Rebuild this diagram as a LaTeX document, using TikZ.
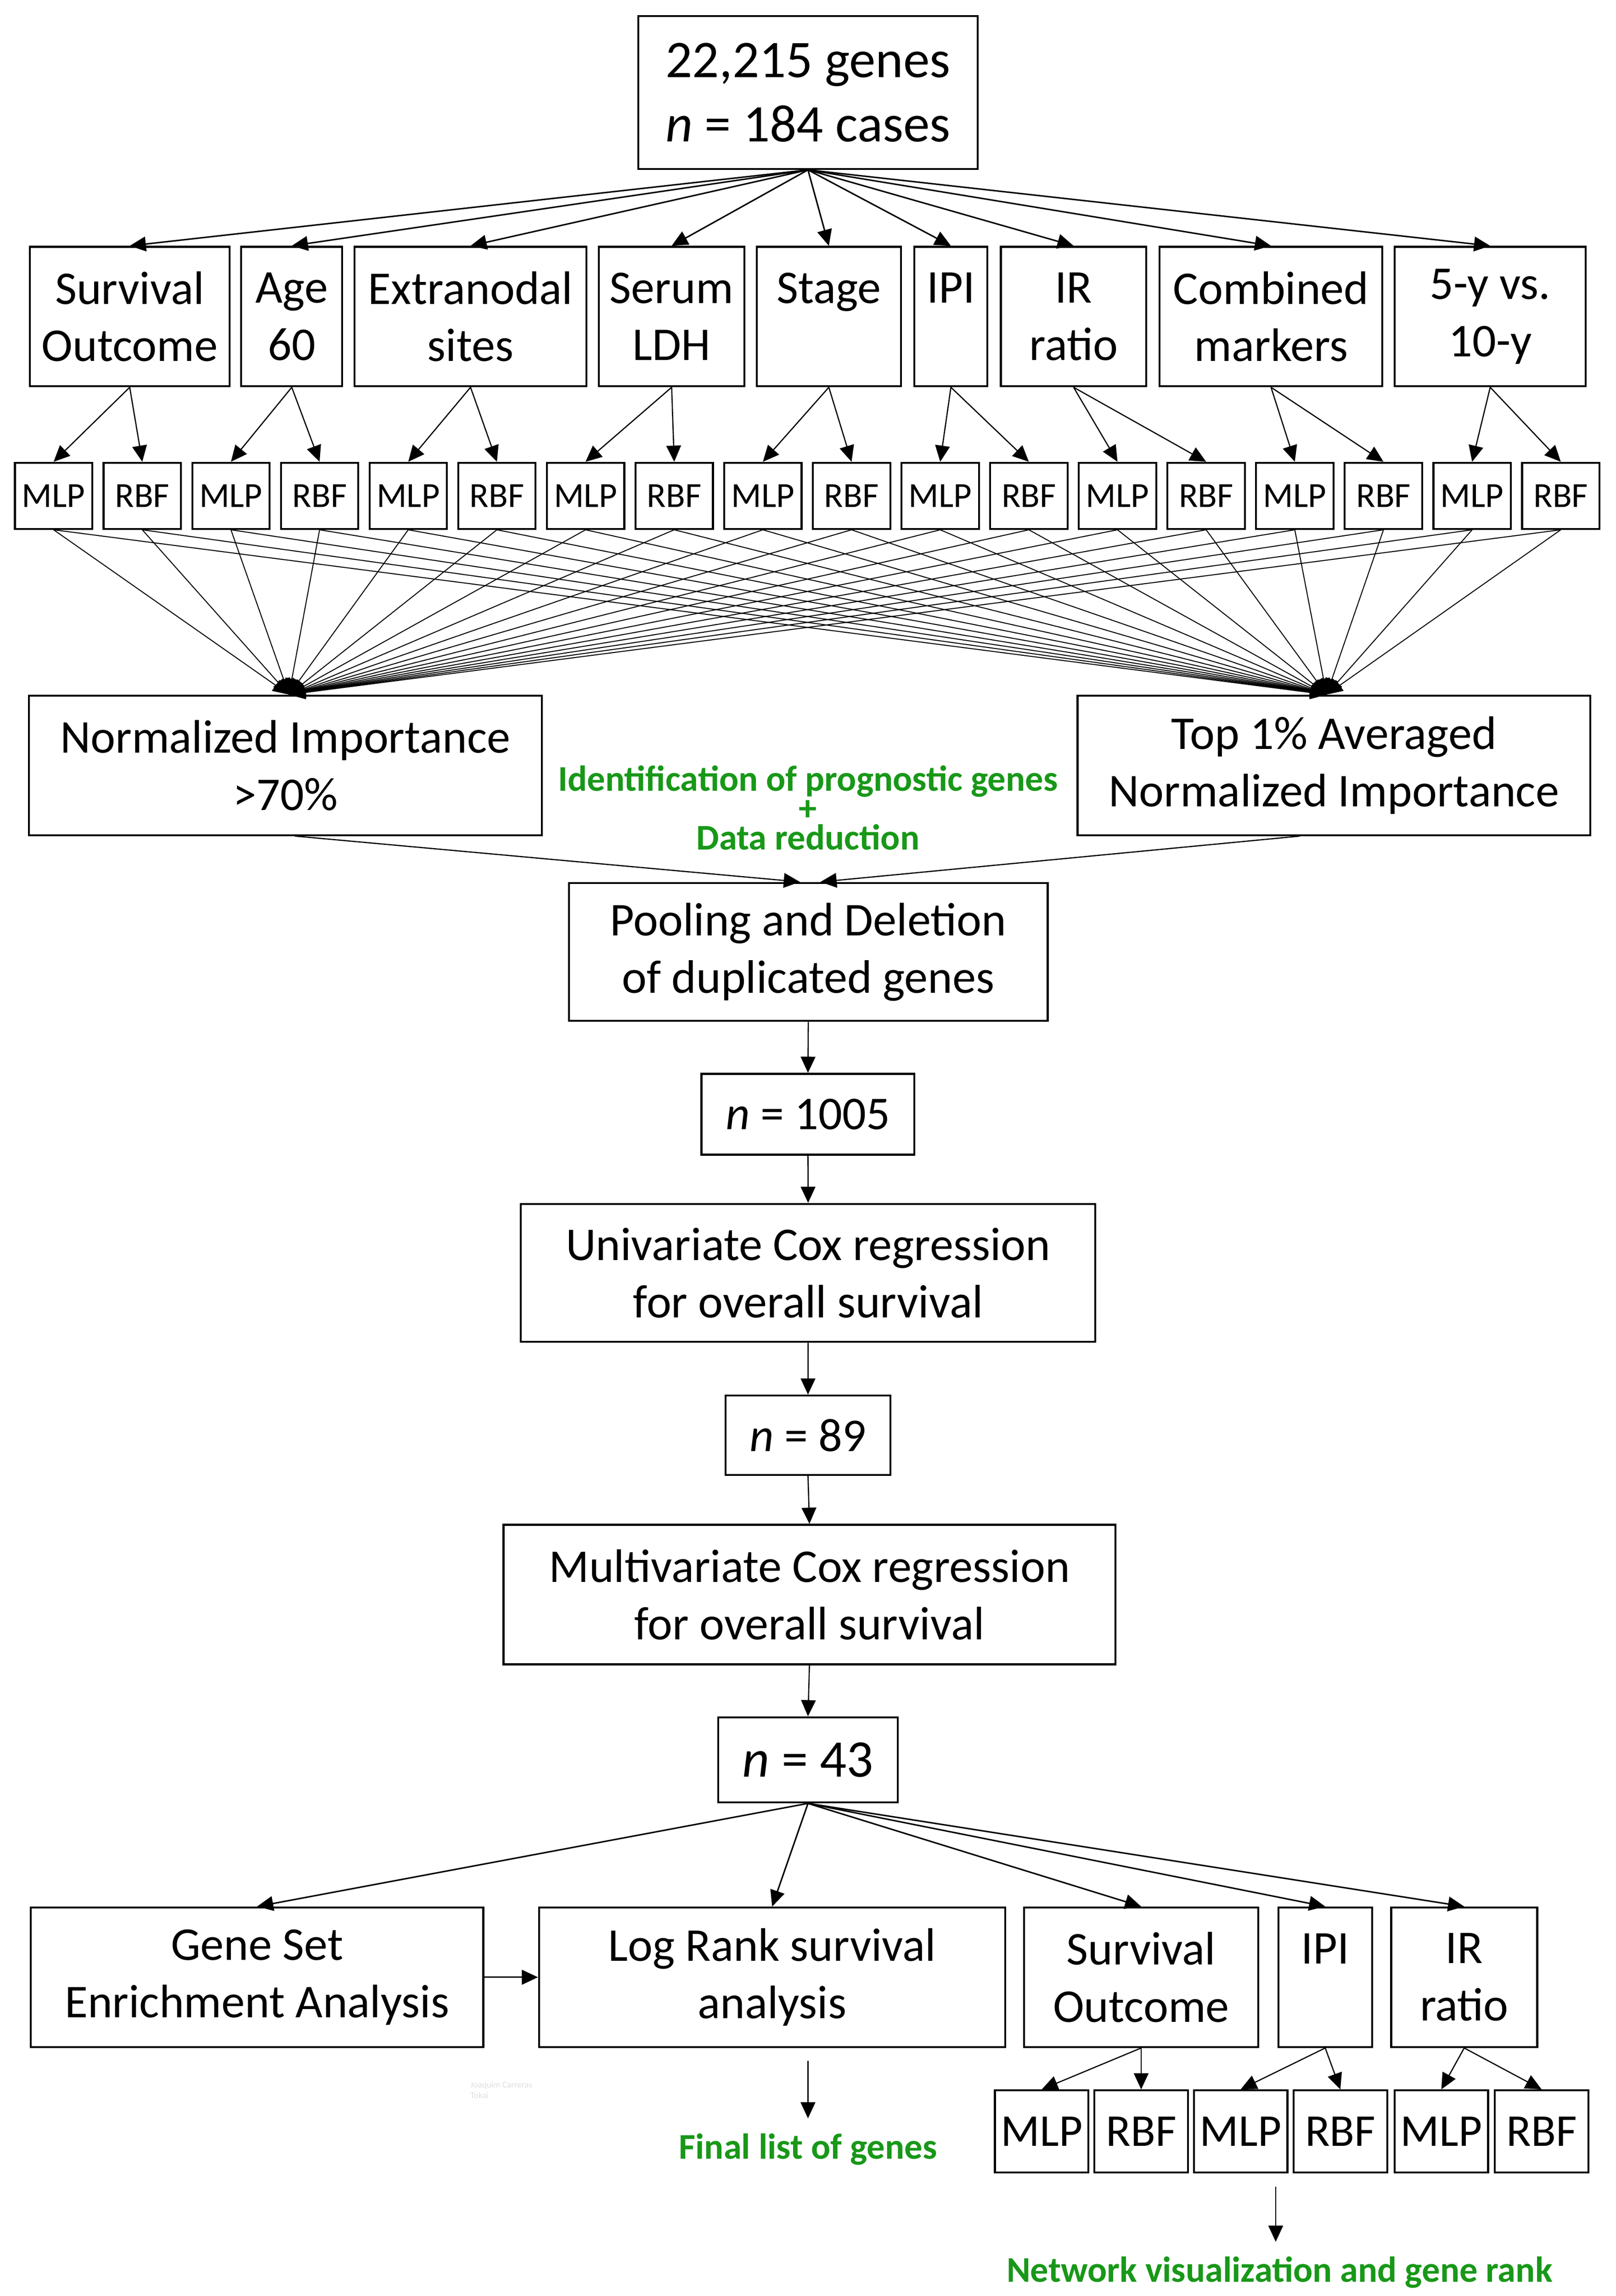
\documentclass[tikz,border=0pt]{standalone}
\usepackage{fontspec}
\setmainfont{Carlito}
\usetikzlibrary{arrows.meta,calc}
\definecolor{grn}{RGB}{24,152,24}
\begin{document}
\begin{tikzpicture}[x=1pt,y=-1pt,
  bx/.style={draw, line width=1.3pt, inner sep=0pt, align=center, font=\fontsize{32}{39}\selectfont},
  sm/.style={draw, line width=1.3pt, inner sep=0pt, minimum width=52.7pt, minimum height=45pt, font=\fontsize{24}{28}\selectfont},
  bsm/.style={sm, minimum width=63.7pt, minimum height=56pt, font=\fontsize{31}{36}\selectfont},
  arr/.style={line width=0.8pt, -{Triangle[length=11pt,width=10pt]}},
  tarr/.style={arr, line width=1pt},
  fan/.style={line width=0.65pt, -{Triangle[length=11pt,width=9pt]}},
  gtxt/.style={text=grn, font=\bfseries\fontsize{24.6}{20}\selectfont, align=center, inner sep=0pt}
]
\useasboundingbox[fill=white] (0,0) rectangle (1100,1563);

% top
\node[bx, minimum width=231pt, minimum height=104pt, font=\fontsize{36}{44}\selectfont] (top) at (550,63) {22,215 genes\\\textit{n} = 184 cases};

% row 1
\node[bx, minimum width=136pt, minimum height=95pt] (so)   at (88.3,215.5)  {Survival\\Outcome};
\node[bx, minimum width=68.8pt, minimum height=95pt] (age) at (198.6,215.5) {Age\\60};
\node[bx, minimum width=158pt, minimum height=95pt] (ext)  at (320.3,215.5) {Extranodal\\sites};
\node[bx, minimum width=99pt,  minimum height=95pt] (ldh)  at (457.2,215.5) {Serum\\LDH};
\node[bx, minimum width=98.3pt, minimum height=95pt] (stg) at (564.2,215.5) {Stage\\\vphantom{A}};
\node[bx, minimum width=49.8pt, minimum height=95pt] (ipi) at (647.3,215.5) {IPI\\\vphantom{A}};
\node[bx, minimum width=99pt,  minimum height=95pt] (ir)   at (730.8,215.5) {IR\\ratio};
\node[bx, minimum width=151.6pt, minimum height=95pt] (comb) at (865.2,215.5) {Combined\\markers};
\node[bx, minimum width=130pt, minimum height=95pt] (fy)   at (1014.4,215.5) {5-y vs.\\10-y};

\foreach \p in {so,age,ext,ldh,stg,ipi,ir,comb,fy}
  \draw[tarr] (top.south) -- (\p.north);

% MLP / RBF row
\foreach \k in {0,...,8} {
  \node[sm] (ma\k) at ({36.5+120.7*\k},337.5) {MLP};
  \node[sm] (mb\k) at ({96.85+120.7*\k},337.5) {RBF};
}
\foreach \p [count=\k from 0] in {so,age,ext,ldh,stg,ipi,ir,comb,fy} {
  \draw[arr] (\p.south) -- (ma\k.north);
  \draw[arr] (\p.south) -- (mb\k.north);
}

% importance boxes
\node[bx, minimum width=349.3pt, minimum height=95pt] (ni) at (194.3,521) {Normalized Importance\\>70\%};
\node[bx, minimum width=349pt, minimum height=95pt] (t1) at (908,521) {Top 1\% Averaged\\Normalized Importance};

\foreach \k in {0,...,8} {
  \draw[fan] (ma\k.south) -- ([xshift=2.4pt]ni.north);
  \draw[fan] (mb\k.south) -- ([xshift=2.4pt]ni.north);
  \draw[fan] (ma\k.south) -- ([xshift=-5pt]t1.north);
  \draw[fan] (mb\k.south) -- ([xshift=-5pt]t1.north);
}

\node[gtxt] (idg) at (550,550) {Identification of prognostic genes\\+\\Data reduction};

% pipeline
\node[bx, minimum width=326pt, minimum height=94pt] (pool) at (550.2,648) {Pooling and Deletion\\of duplicated genes};
\draw[arr] ([xshift=6.4pt]ni.south) -- ([xshift=-5.7pt]pool.north);
\draw[arr] ([xshift=-23pt]t1.south) -- ([xshift=8.3pt]pool.north);

\node[bx, minimum width=145pt, minimum height=55pt] (n1) at (550,758.5) {\textit{n} = 1005};
\node[bx, minimum width=391pt, minimum height=94pt] (uni) at (550.1,866.5) {Univariate Cox regression\\for overall survival};
\node[bx, minimum width=112pt, minimum height=54pt] (n2) at (550,977) {\textit{n} = 89};
\node[bx, minimum width=416.5pt, minimum height=95pt] (mul) at (551,1085.5) {Multivariate Cox regression\\for overall survival};
\node[bx, minimum width=122pt, minimum height=58pt, font=\fontsize{36}{44}\selectfont] (n3) at (550,1198) {\textit{n} = 43};

\draw[arr] (pool.south) -- (n1.north);
\draw[arr] (n1.south) -- (uni.north);
\draw[arr] (uni.south) -- (n2.north);
\draw[arr] (n2.south) -- (mul.north);
\draw[arr] (mul.south) -- (n3.north);

% bottom row
\node[bx, minimum width=308pt, minimum height=95pt] (gsea) at (175,1346) {Gene Set\\Enrichment Analysis};
\node[bx, minimum width=317.4pt, minimum height=95pt] (lr) at (525.6,1346) {Log Rank survival\\analysis};
\node[bx, minimum width=159.2pt, minimum height=95pt] (so2) at (776.8,1346) {Survival\\Outcome};
\node[bx, minimum width=63.7pt, minimum height=95pt] (ipi2) at (902.1,1346) {IPI\\\vphantom{A}};
\node[bx, minimum width=99.4pt, minimum height=95pt] (ir2) at (996.7,1346) {IR\\ratio};

\foreach \p in {gsea,lr,so2,ipi2,ir2}
  \draw[tarr] (n3.south) -- (\p.north);
\draw[tarr] (gsea.east) -- (lr.west);

\node[bsm] (ba0) at (709.1,1451) {MLP};
\node[bsm] (bb0) at (776.8,1451) {RBF};
\node[bsm] (ba1) at (844.5,1451) {MLP};
\node[bsm] (bb1) at (912.4,1451) {RBF};
\node[bsm] (ba2) at (981.1,1451) {MLP};
\node[bsm] (bb2) at (1049.4,1451) {RBF};
\foreach \p [count=\k from 0] in {so2,ipi2,ir2} {
  \draw[arr] (\p.south) -- (ba\k.north);
  \draw[arr] (\p.south) -- (bb\k.north);
}

% outputs
\node[font=\fontsize{6}{7}\selectfont, text=black!12, align=left, anchor=north west, inner sep=0pt] (wm) at (320,1417) {Joaquim Carreras\\Tokai};

\coordinate (fa) at (550,1403);
\node[gtxt] (fin) at (550,1463) {Final list of genes};
\draw[arr, shorten >=10pt] (fa) -- (fin.north);

\coordinate (na) at (868.4,1488.5);
\node[gtxt] (net) at (871,1547) {Network visualization and gene rank};
\draw[arr, shorten >=10pt] (na) -- (na |- net.north);
\end{tikzpicture}
\end{document}
